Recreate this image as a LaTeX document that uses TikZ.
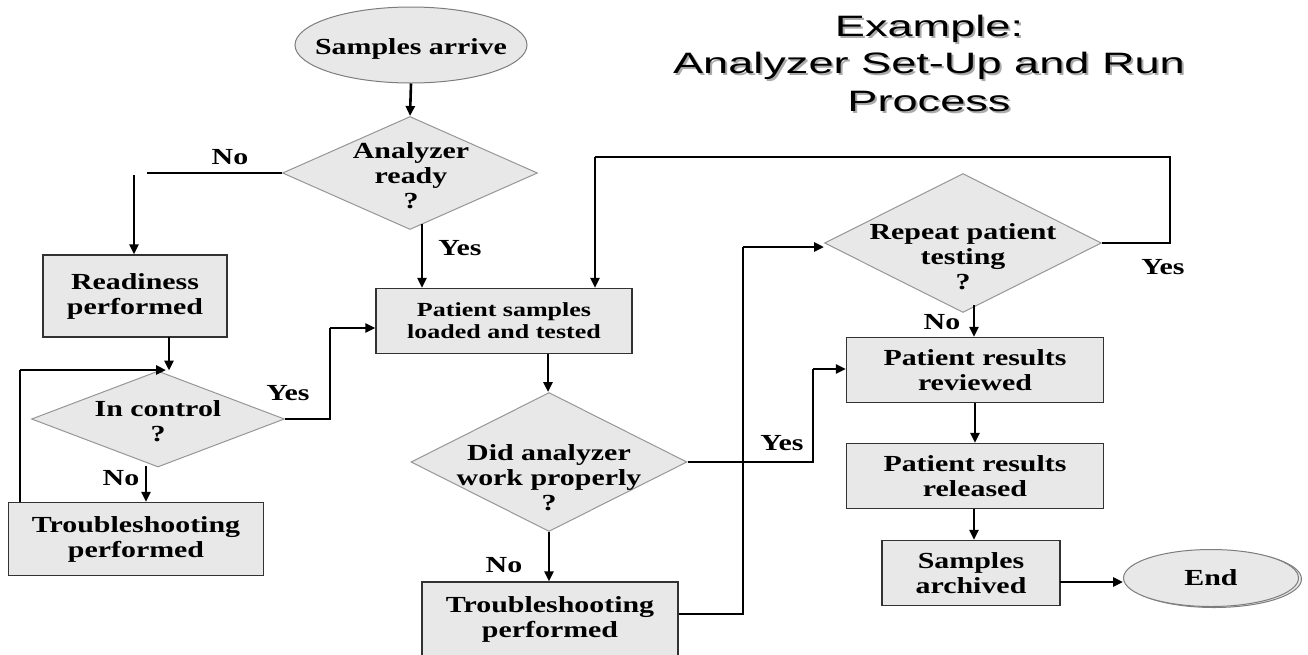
\documentclass[tikz,border=0pt]{standalone}
\usepackage{fontspec}
\usetikzlibrary{shapes.geometric,arrows.meta,calc}
\newfontfamily\bodyfont[FakeStretch=1.3]{Liberation Serif}
\newfontfamily\titlefont[FakeStretch=1.53]{Liberation Sans}
\definecolor{boxfill}{RGB}{232,232,232}
\definecolor{boxline}{RGB}{50,50,50}
\definecolor{dialine}{RGB}{150,150,150}
\definecolor{ellline}{RGB}{125,125,125}
\definecolor{shadowc}{RGB}{170,170,170}
\begin{document}
\begin{tikzpicture}[x=1pt,y=-1pt,
  bodytxt/.style={font=\bodyfont\bfseries\fontsize{23}{25}\selectfont},
  proc/.style={rectangle, draw=boxline, fill=boxfill, line width=1.2pt, inner sep=0pt, align=center, bodytxt},
  decide/.style={diamond, draw=dialine, fill=boxfill, line width=1pt, inner sep=0pt},
  term/.style={ellipse, draw=ellline, fill=boxfill, line width=1pt, inner sep=0pt},
  lbl/.style={inner sep=0pt, align=center, bodytxt},
  ttl/.style={inner sep=0pt, anchor=base, font=\titlefont\fontsize{29.5}{37}\selectfont},
  flow/.style={line width=2.6pt, -{Triangle[length=10pt,width=9pt]}},
  plain/.style={line width=1.2pt}]
\useasboundingbox (0,0) rectangle (1308,654);
\fill[white] (0,0) rectangle (1308,654);

% title with shadow
\node[ttl, text=shadowc] (t1s) at (931,38) {Example:};
\node[ttl, text=shadowc] (t2s) at (931,75.5) {Analyzer Set-Up and Run};
\node[ttl, text=shadowc] (t3s) at (931,113) {Process};
\node[ttl] (t1) at (929,36) {Example:};
\node[ttl] (t2) at (929,73.5) {Analyzer Set-Up and Run};
\node[ttl] (t3) at (929,111) {Process};

% shapes
\node[term, minimum width=232pt, minimum height=76pt] (sa) at (411,45) {};
\node[lbl] (saT) at (411,49) {Samples arrive};

\node[decide, minimum width=255pt, minimum height=113pt] (ar) at (410,173) {};
\node[lbl] (arT) at (411,176) {Analyzer\\ready\\?};

\node[proc, minimum width=184pt, minimum height=82pt] (rp) at (135,296) {Readiness\\performed};

\node[decide, minimum width=253pt, minimum height=96pt] (ic) at (158,419) {};
\node[lbl] (icT) at (158,421) {In control\\?};

\node[proc, minimum width=255pt, minimum height=73pt] (tsl) at (136,539) {Troubleshooting\\performed};

\node[proc, minimum width=256pt, minimum height=65pt, font=\bodyfont\bfseries\fontsize{20}{22}\selectfont] (ps) at (504,321) {Patient samples\\loaded and tested};

\node[decide, minimum width=276pt, minimum height=139pt] (da) at (549,462) {};
\node[lbl] (daT) at (549,478) {Did analyzer\\work properly\\?};

\node[proc, minimum width=256pt, minimum height=74pt] (tsb) at (550,619) {Troubleshooting\\performed};

\node[decide, minimum width=277pt, minimum height=139pt] (rpt) at (963,243) {};
\node[lbl] (rptT) at (963,257) {Repeat patient\\testing\\?};

\node[proc, minimum width=257pt, minimum height=65pt] (prv) at (975,370) {Patient results\\reviewed};
\node[proc, minimum width=257pt, minimum height=65pt] (prl) at (975,476) {Patient results\\released};
\node[proc, minimum width=178pt, minimum height=65pt] (sar) at (971,573) {Samples\\archived};

\node[term, minimum width=175pt, minimum height=57pt] (ends) at (1214,579) {};
\node[term, minimum width=175pt, minimum height=57pt] (end) at (1211,578) {};
\node[lbl] (endT) at (1211,578) {End};

% connector coordinates
\coordinate (noEnd) at (147,173);
\coordinate (noTurn) at (134,175);
\coordinate (arYes) at (422,224);
\coordinate (rpOut) at (169,337);
\coordinate (loopTop) at (20,370);
\coordinate (loopEnd) at (166,370);
\coordinate (icNo) at (146,466);
\coordinate (icY1) at (330,419);
\coordinate (icY2) at (330,328);
\coordinate (psOut) at (548,354);
\coordinate (fb1) at (743,614);
\coordinate (fb2) at (743,247);
\coordinate (ry1) at (1170,243);
\coordinate (ry2) at (1170,157);
\coordinate (ry3) at (595,157);
\coordinate (rnO) at (974,305);
\coordinate (dy1) at (813,462);
\coordinate (dy2) at (813,369);
\coordinate (prlOut) at (974,508.5);
\coordinate (sarOut) at (1060,582);

% connectors
\draw[flow] (sa.south) -- (ar.north);
\draw[plain] (ar.west) -- (noEnd);
\draw[flow] (noTurn) -- (noTurn |- rp.north);
\draw[flow] (arYes) -- (arYes |- ps.north);
\draw[flow] (rpOut) -- (rpOut |- ic.north);
\draw[line width=2pt] (loopTop |- tsl.north) -- (loopTop);
\draw[flow] (loopTop) -- (loopEnd);
\draw[flow] (icNo) -- (icNo |- tsl.north);
\draw[plain] (ic.east) -- (icY1) -- (icY2);
\draw[flow] (icY2) -- (icY2 -| ps.west);
\draw[flow] (psOut) -- (psOut |- da.north);
\draw[flow] (da.south) -- (da.south |- tsb.north);
\draw[plain] (fb1 -| tsb.east) -- (fb1) -- (fb2);
\draw[flow] (fb2) -- (fb2 -| rpt.west);
\draw[plain] (rpt.east) -- (ry1) -- (ry2) -- (ry3);
\draw[flow] (ry3) -- (ry3 |- ps.north);
\draw[flow] (rnO) -- (rnO |- prv.north);
\draw[plain] (da.east) -- (dy1) -- (dy2);
\draw[flow] (dy2) -- (dy2 -| prv.west);
\draw[flow] (prv.south) -- (prl.north);
\draw[flow] (prlOut) -- (prlOut |- sar.north);
\draw[flow] (sarOut) -- (sarOut -| end.west);

% labels
\node[lbl] (lNo1) at (230,157) {No};
\node[lbl] (lYes1) at (460,248) {Yes};
\node[lbl] (lYes2) at (288,393) {Yes};
\node[lbl] (lNo2) at (121,478) {No};
\node[lbl] (lNo3) at (504,565) {No};
\node[lbl] (lYes3) at (782,443) {Yes};
\node[lbl] (lYes4) at (1163,267) {Yes};
\node[lbl] (lNo4) at (942,322) {No};
\end{tikzpicture}
\end{document}
